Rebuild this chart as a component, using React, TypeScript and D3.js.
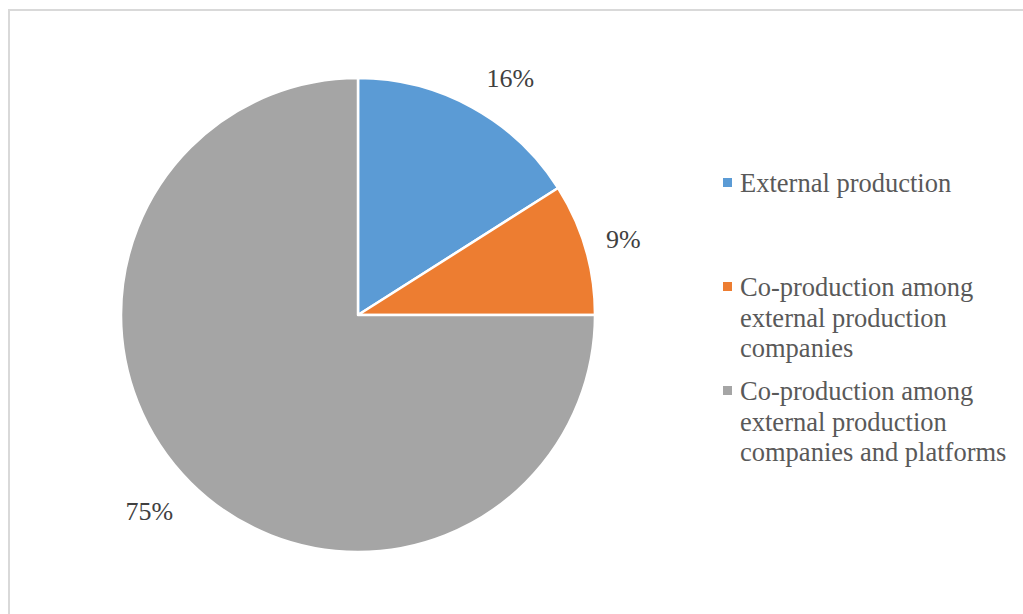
import React from "react";
import * as d3 from "d3";

const categories = [
  "External production",
  "Co-production among external production companies",
  "Co-production among external production companies and platforms",
];
const values = [16, 9, 75];
const colors = ["#5B9BD5", "#ED7D31", "#A5A5A5"];
const legendLines = [
  ["External production"],
  ["Co-production among", "external production", "companies"],
  ["Co-production among", "external production", "companies and platforms"],
];
const legendTops = [178, 282, 386];

export default function App() {
  const W = 1023, H = 614;
  const cx = 358, cy = 315, r = 237;
  const pie = d3.pie<number>().sort(null).value((d) => d)(values);
  const arc = d3.arc<d3.PieArcDatum<number>>().innerRadius(0).outerRadius(r);
  const labelArc = d3.arc<d3.PieArcDatum<number>>().innerRadius(250).outerRadius(250);
  const font = "Liberation Serif";
  const labelSize = 26;
  return (
    <svg width={W} height={H} style={{ position: "absolute", left: 0, top: 0 }}>
      <rect x={0} y={0} width={W} height={H} fill="#fff" />
      <rect x={9} y={10} width={W + 20} height={H + 20} fill="none" stroke="#d9d9d9" strokeWidth={2} />
      <g transform={`translate(${cx},${cy})`}>
        {pie.map((d, i) => (
          <path key={i} d={arc(d) || ""} fill={colors[i]} stroke="#fff" strokeWidth={2.5} strokeLinejoin="round" />
        ))}
        {pie.map((d, i) => {
          const [px, py] = labelArc.centroid(d);
          const a = (d.startAngle + d.endAngle) / 2;
          const s = Math.sin(a), c = Math.cos(a);
          const text = `${values[i]}%`;
          const w = (text.length - 1) * 0.5 * labelSize + 0.833 * labelSize;
          const x = px + Math.sign(s) * (w / 2 + 8);
          const y = py - c * (c < 0 ? 28 : 20);
          return (
            <text key={i} x={x} y={y} textAnchor="middle" dominantBaseline="central"
              fontFamily={font} fontSize={labelSize} fill="#404040">{text}</text>
          );
        })}
      </g>
      <g>
        {categories.map((cat, i) => (
          <g key={cat}>
            <rect x={723} y={legendTops[i]} width={9} height={9} fill={colors[i]} />
            {legendLines[i].map((ln, j) => (
              <text key={j} x={740} y={legendTops[i] + 14 + j * 30.5} fontFamily={font} fontSize={26.5} fill="#595959">{ln}</text>
            ))}
          </g>
        ))}
      </g>
    </svg>
  );
}
